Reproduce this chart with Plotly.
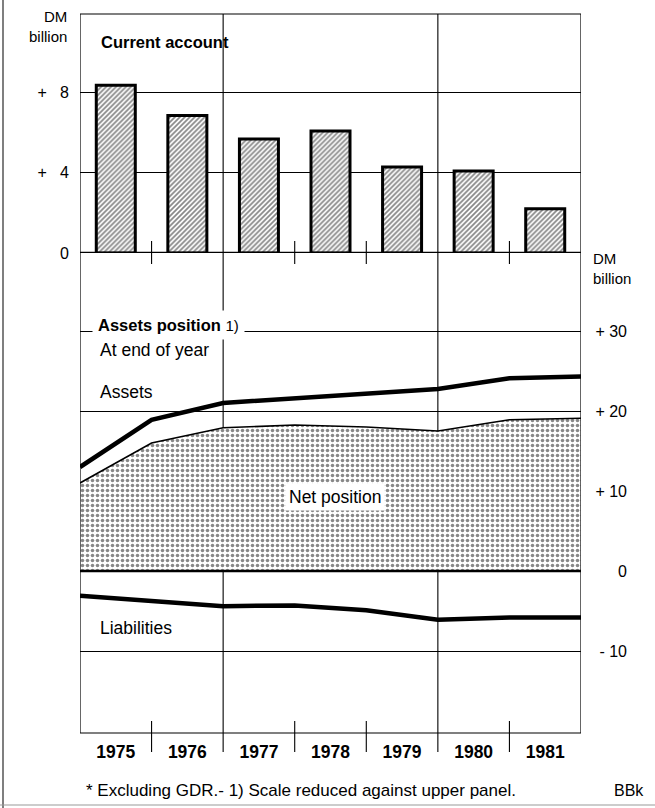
import numpy as np
import plotly.graph_objects as go

# ---------------- data ----------------
years = ["1975", "1976", "1977", "1978", "1979", "1980", "1981"]
current_account = [8.35, 6.85, 5.67, 6.07, 4.28, 4.08, 2.2]          # DM billion

year_ends = ["end-1974", "end-1975", "end-1976", "end-1977", "end-1978",
             "end-1979", "end-1980", "end-1981"]
assets = [13.0, 18.9, 21.0, 21.6, 22.2, 22.75, 24.1, 24.3]
net_position = [11.0, 16.0, 17.9, 18.25, 18.0, 17.5, 18.9, 19.1]
liabilities = [-3.1, -3.7, -4.4, -4.3, -4.9, -6.1, -5.8, -5.8]

upper_tickvals = [0, 4, 8]
upper_ticktext = ["0", "+\u2007 4", "+\u2007 8"]
lower_tickvals = [-10, 0, 10, 20, 30]
lower_ticktext = ["- 10", "0", "+ 10", "+ 20", "+ 30"]

divider_years = [2, 5]          # full vertical lines (year boundaries)
tick_years = [1, 3, 4, 6]       # short separator ticks

FONT = "Liberation Sans, Arial, Helvetica, sans-serif"

# ---------------- geometry helpers ----------------
W, H = 655, 808
ML, MR, MT, MB = 80, 10, 14, 75
PW = W - ML - MR
PH = H - MT - MB
PLOT_RIGHT = 581


def px(xp):
    return (xp - ML) / PW


def py(yp):
    return (H - MB - yp) / PH


split = py(253)

fig = go.Figure()

x_centers = np.arange(len(years)) + 0.5
fig.add_trace(go.Bar(
    x=x_centers, y=current_account, xaxis="x", yaxis="y", width=0.545,
    marker=dict(color="white", line=dict(color="black", width=3),
                pattern=dict(shape="/", fgcolor="#111111", bgcolor="white",
                             size=3.5, solidity=0.5)),
    hoverinfo="skip"))

x_ends = np.arange(len(year_ends))
fig.add_trace(go.Scatter(
    x=x_ends, y=net_position, xaxis="x", yaxis="y2", mode="lines",
    line=dict(color="black", width=1.6), fill="tozeroy",
    fillpattern=dict(shape=".", fgcolor="#111111", bgcolor="white",
                     size=5, solidity=0.4),
    hoverinfo="skip"))
fig.add_trace(go.Scatter(
    x=x_ends, y=assets, xaxis="x", yaxis="y2", mode="lines",
    line=dict(color="black", width=4.5), hoverinfo="skip"))
fig.add_trace(go.Scatter(
    x=x_ends, y=liabilities, xaxis="x", yaxis="y2", mode="lines",
    line=dict(color="black", width=4.5), hoverinfo="skip"))

shapes = []
# frame
shapes.append(dict(type="rect", xref="x", yref="paper", x0=0, x1=len(years),
                   y0=0, y1=1, line=dict(color="black", width=1.2),
                   layer="above"))
# panel boundary (upper zero line) and lower zero line
shapes.append(dict(type="line", xref="x", yref="y", x0=0, x1=len(years),
                   y0=0, y1=0, line=dict(color="black", width=2.5),
                   layer="above"))
shapes.append(dict(type="line", xref="x", yref="y2", x0=0, x1=len(years),
                   y0=0, y1=0, line=dict(color="black", width=2.5),
                   layer="above"))
# full dividers
for d in divider_years:
    shapes.append(dict(type="line", xref="x", yref="paper", x0=d, x1=d,
                       y0=py(752), y1=1, line=dict(color="black", width=1.1),
                       layer="below"))
# short ticks
for t in tick_years:
    shapes.append(dict(type="line", xref="x", yref="paper", x0=t, x1=t,
                       y0=py(752), y1=py(721),
                       line=dict(color="black", width=1.1), layer="above"))
    shapes.append(dict(type="line", xref="x", yref="paper", x0=t, x1=t,
                       y0=py(264), y1=py(241),
                       line=dict(color="black", width=1.1), layer="above"))
# page border lines of the scan
shapes.append(dict(type="line", xref="paper", yref="paper", x0=px(3), x1=px(3),
                   y0=py(0), y1=py(808), line=dict(color="#555555", width=1.5)))
shapes.append(dict(type="line", xref="paper", yref="paper", x0=px(0), x1=px(655),
                   y0=py(805), y1=py(805), line=dict(color="#999999", width=1)))


def ann(text, x, y, size=17, xanchor="left", yanchor="middle", bold=False, **kw):
    return dict(text=text, x=x, y=y, xref="paper", yref="paper",
                xanchor=xanchor, yanchor=yanchor, showarrow=False,
                font=dict(family=FONT, size=size, color="black",
                          weight="bold" if bold else "normal"), **kw)


annotations = [
    ann("DM<br>billion", px(69), py(27), size=15, xanchor="right", align="right"),
    ann("DM<br>billion", px(591), py(268), size=15, align="left"),
    ann("Current account", px(99), py(42), size=16.5, bold=True),
    ann("<b>Assets position</b> <span style='font-size:15px'>1)</span>",
        px(92), py(325), size=16.5, bgcolor="white", borderpad=5),
    ann("At end of year", px(98), py(350), size=17.5),
    ann("Assets", px(98), py(392), size=17.5),
    ann("Net position", px(335), py(497), size=17.5, xanchor="center",
        bgcolor="white", borderpad=3),
    ann("Liabilities", px(98), py(628), size=17.5),
    ann("* Excluding GDR.- 1) Scale reduced against upper panel.",
        px(84), py(790), size=17),
    ann("BBk", px(612), py(790), size=16),
]

fig.update_layout(
    width=W, height=H,
    margin=dict(l=ML, r=MR, t=MT, b=MB),
    paper_bgcolor="white", plot_bgcolor="rgba(0,0,0,0)",
    showlegend=False, bargap=0, hovermode=False,
    font=dict(family=FONT, color="black"),
    xaxis=dict(domain=[0, px(PLOT_RIGHT)], range=[0, len(years)],
               tickvals=x_centers, ticktext=years, anchor="y2",
               showgrid=False, zeroline=False, showline=False, ticks="",
               ticklabelstandoff=6,
               tickfont=dict(family=FONT, size=17.5, weight="bold",
                             color="black")),
    yaxis=dict(domain=[split, 1], range=[0, 11.9], anchor="x",
               tickvals=upper_tickvals, ticktext=upper_ticktext,
               showgrid=True, gridcolor="black", gridwidth=1,
               zeroline=False, showline=False, ticks="",
               ticklabelstandoff=10,
               tickfont=dict(family=FONT, size=16, color="black")),
    yaxis2=dict(domain=[0, split], range=[-20.25, 39.75], anchor="free",
                side="left", position=px(627),
                tickvals=lower_tickvals, ticktext=lower_ticktext,
                showgrid=True, gridcolor="black", gridwidth=1,
                zeroline=False, showline=False, ticks="",
                ticklabelstandoff=0,
                tickfont=dict(family=FONT, size=16, color="black")),
    shapes=shapes,
    annotations=annotations,
)

fig.write_html("out.html",
               config={"displayModeBar": False, "staticPlot": True},
               post_script="document.body.style.margin='0';"
                           "document.body.style.overflow='hidden';")
